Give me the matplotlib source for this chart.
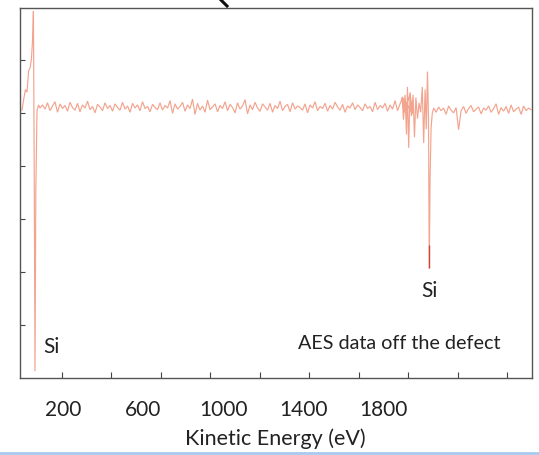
import numpy as np
import matplotlib
matplotlib.use("Agg")
import matplotlib.pyplot as plt
from matplotlib.lines import Line2D

# ---------------- data ----------------
# Si LMM region (low kinetic energy)
lmm_energy = [-5, 5, 12, 20, 28, 35, 42, 48, 52, 56, 60, 64, 70, 78]
lmm_signal = [5.06, 5.30, 5.45, 5.40, 5.80, 5.86, 6.02, 6.40, 6.93, 4.00,
              0.13, 3.50, 5.05, 5.16]

# flat noisy background between the two Si features
bg1_start, bg1_step = 85, 12.5
bg1_signal = [
    5.10, 5.16, 5.08, 5.20, 5.05, 5.14, 5.22, 5.02, 5.18, 5.09,
    5.15, 5.04, 5.21, 5.11, 5.06, 5.19, 5.03, 5.16, 5.10, 5.23,
    5.07, 5.13, 5.01, 5.17, 5.12, 5.05, 5.20, 5.09, 5.15, 5.04,
    5.18, 5.11, 5.06, 5.21, 5.08, 5.14, 5.02, 5.19, 5.10, 5.16,
    5.05, 5.22, 5.09, 5.13, 5.03, 5.17, 5.11, 5.07, 5.20, 5.06,
    5.15, 5.10, 5.24, 5.00, 5.18, 5.08, 5.13, 5.21, 5.04, 5.16,
    5.09, 5.27, 4.98, 5.19, 5.06, 5.14, 5.02, 5.25, 5.07, 5.12,
    5.18, 5.03, 5.15, 5.09, 5.22, 5.05, 5.17, 5.11, 5.01, 5.20,
    5.08, 5.14, 5.26, 4.99, 5.16, 5.07, 5.21, 5.10, 5.04, 5.18,
    5.12, 5.06, 5.19, 5.02, 5.15, 5.09, 5.23, 5.05, 5.13, 5.17,
    5.03, 5.20, 5.08, 5.14, 5.11, 5.06, 5.18, 5.01, 5.16, 5.10,
    5.22, 5.05, 5.13, 5.09, 5.19, 5.04, 5.15, 5.08, 5.21, 5.12,
    5.06, 5.17, 5.02, 5.14, 5.10, 5.20, 5.07, 5.16, 5.11, 5.05,
    5.18, 5.09, 5.13, 5.03, 5.21, 5.07, 5.15, 5.10, 5.19, 5.04,
    5.16, 5.08, 5.24, 5.05, 5.18, 5.30, 5.02, 5.22, 5.36, 5.00,
]

# Si KLL region
kll_energy = [1895, 1902, 1910, 1917, 1922, 1928, 1935, 1942, 1950, 1957,
              1964, 1972, 1980, 1988, 1996, 2003, 2010, 2016, 2022, 2027,
              2031, 2035, 2040, 2046, 2053]
kll_signal = [5.31, 4.88, 5.35, 4.60, 5.50, 4.35, 5.40, 4.95, 5.35, 4.55,
              5.30, 4.90, 5.20, 5.02, 5.50, 4.44, 5.45, 4.70, 5.79, 4.90,
              2.07, 3.80, 4.72, 5.00, 5.10]

# background after the Si KLL feature
bg2_start, bg2_step = 2065, 12.5
bg2_signal = [
    5.02, 5.12, 5.05, 5.10, 4.98, 5.14, 5.06, 5.01, 5.11, 4.69,
    5.05, 5.13, 5.00, 5.09, 5.15, 5.03, 5.08, 5.12, 4.99, 5.10,
    5.06, 5.14, 5.02, 5.09, 5.18, 4.98, 5.11, 5.04, 5.13, 5.00,
    5.16, 5.03, 5.08, 5.12, 4.98, 5.14, 5.05, 5.10, 5.07,
]

xtick_labels = ["200", "600", "1000", "1400", "1800"]
xtick_values = [200, 600, 1000, 1400, 1800]
xtick_marks = [195, 442, 690, 937, 1185, 1432, 1680, 1927, 2175, 2422]
ytick_marks = [1, 2, 3, 4, 5, 6]

xlabel = "Kinetic Energy (eV)"
note = "AES data off the defect"
peak_label = "Si"

# ---------------- assemble ----------------
bg1_energy = bg1_start + bg1_step * np.arange(len(bg1_signal))
bg2_energy = bg2_start + bg2_step * np.arange(len(bg2_signal))
energy = np.concatenate([lmm_energy, bg1_energy, kll_energy, bg2_energy])
signal = np.concatenate([lmm_signal, bg1_signal, kll_signal, bg2_signal])

plt.rcParams['font.family'] = ['Lato', 'DejaVu Sans']

W, H = 539, 455
fig = plt.figure(figsize=(W / 100, H / 100), dpi=100)
ax = fig.add_axes([20 / W, 1 - 378 / H, (531.5 - 20) / W, (378 - 7.5) / H])

line_color = '#f3a48f'
ax.plot(energy, signal, color=line_color, lw=0.85, solid_joinstyle='miter')

# darker tip of the Si KLL dip
kll_arr = np.array(kll_signal)
imin = int(np.argmin(kll_arr))
ax.vlines(kll_energy[imin], kll_arr[imin], kll_arr[imin] + 0.45,
          color='#c8473a', lw=1.0)

ax.set_xlim(-15, 2542)
ax.set_ylim(0, 7)

ax.set_xticks(xtick_values)
ax.set_xticklabels(xtick_labels)
ax.set_xticks(xtick_marks, minor=True)
ax.tick_params(axis='x', which='major', length=0, pad=16, labelsize=15,
               labelcolor='#222222')
ax.tick_params(axis='x', which='minor', direction='in', length=4,
               width=0.8, color='#444444')
ax.set_yticks(ytick_marks)
ax.set_yticklabels([])
ax.tick_params(axis='y', which='major', direction='in', length=3.5,
               width=0.8, color='#444444')

for s in ax.spines.values():
    s.set_color('#555555')
    s.set_linewidth(1.0)

ax.set_xlabel(xlabel, fontsize=15.5, color='#222222', labelpad=6)

# annotations
ax.text(140, 0.59, peak_label, fontsize=15, color='#222222',
        ha='center', va='center')
ax.text(2030, 1.65, peak_label, fontsize=15, color='#222222',
        ha='center', va='center')
ax.text(2385, 0.65, note, fontsize=14.2, color='#222222',
        ha='right', va='center')

# decoration: light-blue rule at the bottom and cut-off mark at top
fig.add_artist(Line2D([0, 1], [1 - 453 / H, 1 - 453 / H],
                      transform=fig.transFigure, color='#a9c9ee', lw=2))
fig.add_artist(Line2D([221 / W, 227 / W], [1.0, 1 - 6 / H],
                      transform=fig.transFigure, color='#111111', lw=2.2))

fig.savefig('out.png', dpi=100)
